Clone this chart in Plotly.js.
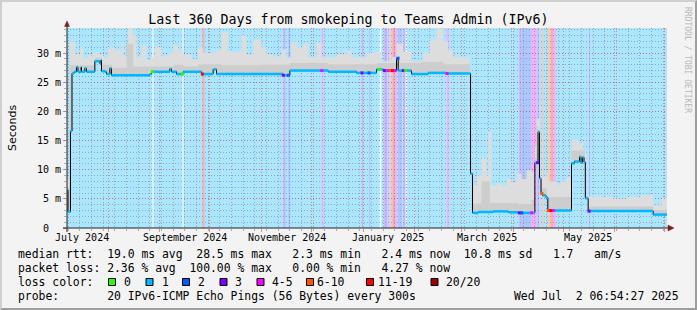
<!DOCTYPE html>
<html><head><meta charset="utf-8">
<script src="https://cdn.plot.ly/plotly-3.0.1.min.js"></script>
<style>
html,body{margin:0;padding:0;background:#f3f3f3;}
#wrap{position:relative;width:697px;height:310px;overflow:hidden;}
#chart{width:697px;height:310px;}
#frame{position:absolute;left:0;top:0;width:697px;height:310px;box-sizing:border-box;
 border-top:2px solid #cfcfcf;border-left:2px solid #cfcfcf;border-right:2px solid #9e9e9e;border-bottom:2px solid #9e9e9e;pointer-events:none;}
</style></head><body>
<div id="wrap"><div id="chart"></div><div id="frame"></div></div>
<script>
// ---- data ----
const medianDates = ['2024-07-07 07:00','2024-07-07 21:00','2024-07-09 09:00','2024-07-10 07:00','2024-07-11 12:00','2024-07-13','2024-07-13 21:00','2024-07-15 17:00','2024-07-16','2024-07-18','2024-07-19','2024-07-24','2024-07-27','2024-07-27 17:00','2024-07-28','2024-07-30','2024-07-31','2024-08-02','2024-08-02 22:00','2024-08-26','2024-08-27','2024-09-07','2024-09-08','2024-09-11','2024-09-15','2024-09-26','2024-10-03','2024-10-05','2024-11-14','2024-11-18','2024-12-11','2024-12-28','2025-01-09','2025-01-13','2025-01-21','2025-01-22','2025-01-30','2025-02-09','2025-02-20','2025-03-06 10:00','2025-03-07 14:00','2025-03-11','2025-03-20','2025-03-29','2025-04-04','2025-04-14','2025-04-15 22:00','2025-04-16 19:00','2025-04-17 17:00','2025-04-18 14:00','2025-04-20 17:00','2025-04-21 19:00','2025-05-06','2025-05-07 19:00','2025-05-10 19:00','2025-05-11 17:00','2025-05-12 14:00','2025-05-13 12:00','2025-05-14 07:00','2025-05-16','2025-06-24','2025-07-02 07:00'];
const medianMs = [6.5,2.8,16.6,26.5,26.8,27.6,26.8,27.6,26.8,27.4,26.8,28.6,28.2,28.8,26.9,26.8,26.4,27.4,26.2,26.4,26.8,27.3,26.8,26.4,26.8,26.4,27.2,26.4,26.2,27.0,26.8,26.6,27.2,27.0,29.1,27.0,26.4,26.6,26.5,9.3,2.6,2.75,2.85,2.7,2.6,11.2,16.5,8.5,5.9,5.6,5.2,3.0,11.1,11.4,12.2,11.2,12.1,11.3,5.1,2.9,2.3,2.3];

const smokeTopDates = ['2024-07-07 07:00','2024-07-09','2024-07-12','2024-07-15','2024-07-17','2024-07-20','2024-07-23','2024-07-26','2024-07-29','2024-08-01','2024-08-05','2024-08-09','2024-08-10','2024-08-13','2024-08-16','2024-08-18','2024-08-21','2024-08-24','2024-08-26','2024-08-29','2024-09-02','2024-09-06','2024-09-09','2024-09-12','2024-09-15','2024-09-20','2024-09-24','2024-09-27','2024-10-05','2024-10-08','2024-10-12','2024-10-20','2024-10-23','2024-10-27','2024-11-01','2024-11-04','2024-11-08','2024-11-13','2024-11-16','2024-11-19','2024-11-22','2024-11-26','2024-11-29','2024-12-04','2024-12-07','2024-12-16','2024-12-22','2024-12-25','2025-01-03','2025-01-09','2025-01-12','2025-01-18','2025-01-21','2025-01-25','2025-01-30','2025-02-06','2025-02-10','2025-02-14','2025-02-18','2025-02-21','2025-02-24','2025-03-06','2025-03-07 14:00','2025-03-10','2025-03-13','2025-03-16','2025-03-17','2025-03-19','2025-03-22','2025-03-25','2025-03-28','2025-03-31','2025-04-03','2025-04-06','2025-04-09','2025-04-12','2025-04-14','2025-04-15','2025-04-17','2025-04-21','2025-04-22','2025-04-27','2025-04-30','2025-05-03','2025-05-06','2025-05-10','2025-05-12','2025-05-13','2025-05-15','2025-05-24','2025-05-31','2025-06-08','2025-06-17','2025-06-24','2025-06-29','2025-07-02 07:00'];
const smokeTopMs = [8.5,32.0,29.8,31.0,29.1,29.6,30.0,29.8,29.3,31.0,30.5,32.0,29.4,34.2,33.0,29.3,31.3,28.8,29.3,31.0,29.5,30.0,31.4,30.6,29.7,28.9,31.0,30.0,30.6,33.6,30.2,33.0,29.7,32.3,31.0,29.7,29.4,30.6,29.2,32.0,31.0,31.6,29.3,31.8,29.3,29.8,30.5,29.3,30.0,30.2,28.6,29.3,31.6,30.2,28.6,30.0,32.3,34.2,32.0,30.4,29.3,10.0,7.3,9.0,11.9,9.0,16.5,7.3,7.6,7.3,8.4,7.9,9.3,8.4,9.9,9.6,14.0,18.8,8.8,9.6,8.0,7.5,8.0,8.6,15.1,14.5,14.8,13.0,5.4,5.3,5.0,5.3,5.6,3.9,5.0,5.0];

const smokeMidDates = ['2024-07-07 07:00','2024-07-09','2024-07-24','2024-07-28','2024-08-03','2024-08-12','2024-08-16','2024-09-09','2024-09-15','2024-09-24','2024-10-08','2024-11-01','2024-11-18','2024-12-11','2025-01-09','2025-01-21','2025-01-23','2025-02-05','2025-02-18','2025-03-06','2025-03-07 14:00','2025-03-13','2025-03-18','2025-04-04','2025-04-12','2025-04-14','2025-04-15','2025-04-16','2025-04-17','2025-04-21','2025-05-06','2025-05-14','2025-05-16','2025-06-24','2025-07-02 07:00'];
const smokeMidMs = [7.0,27.9,29.2,28.0,27.5,31.5,27.7,28.0,27.7,28.1,27.9,28.0,28.3,28.1,28.3,29.5,28.3,28.5,28.1,9.5,4.2,8.0,4.3,4.1,4.8,12.0,17.5,9.0,6.8,5.3,13.3,5.5,3.7,3.1,3.1];

// loss periods: start, end, loss class index into lossLabels
const lossStart = ['2024-08-27 14:00','2024-09-14 14:00','2024-09-26 12:00','2024-11-14 02:00','2024-11-17 02:00','2024-12-07 04:00','2024-12-31 07:00','2025-01-04 12:00','2025-01-10 21:00','2025-01-13 17:00','2025-01-15 21:00','2025-01-17 12:00','2025-01-18 14:00','2025-01-20 02:00','2025-01-21 21:00','2025-01-25 02:00','2025-01-26 12:00','2025-02-20 07:00','2025-04-04 17:00','2025-04-06 02:00','2025-04-12 02:00','2025-04-15 14:00','2025-04-18 07:00','2025-04-22 02:00','2025-04-23 14:00','2025-04-25 02:00','2025-05-16 12:00'];
const lossEnd   = ['2024-08-28 04:00','2024-09-15 04:00','2024-09-27 17:00','2024-11-15 07:00','2024-11-18 07:00','2024-12-08 02:00','2024-12-31 21:00','2025-01-05 02:00','2025-01-11 21:00','2025-01-15 07:00','2025-01-16 12:00','2025-01-18 14:00','2025-01-20 02:00','2025-01-21 07:00','2025-01-24 07:00','2025-01-26 07:00','2025-01-27 07:00','2025-02-21 12:00','2025-04-06 02:00','2025-04-12 02:00','2025-04-15 02:00','2025-04-16 12:00','2025-04-19 04:00','2025-04-23 14:00','2025-04-25 02:00','2025-04-26 12:00','2025-05-17 02:00'];
const lossClass = [0,0,6,3,2,4,3,2,0,3,4,5,6,4,2,3,0,4,3,2,4,3,5,5,6,4,3];

const lossLabels = ['0','1','2','3','4-5','6-10','11-19','20/20'];
const lossColors = ['#26ff00','#00b8ff','#0059ff','#7e00ff','#ff00ff','#ff5500','#ff0000','#a00000'];
const lossBandColors = ['#ffffff','#aae6ff','#aac8ff','#d4aaff','#ffaaff','#ffc7aa','#ffaaaa','#e0aaaa'];

const yTickVals = [0,5,10,15,20,25,30];
const yTickText = ['0\u00a0\u00a0','5 m','10 m','15 m','20 m','25 m','30 m'];
const monthStarts = ['2024-08-01','2024-09-01','2024-10-01','2024-11-01','2024-12-01','2025-01-01','2025-02-01','2025-03-01','2025-04-01','2025-05-01','2025-06-01','2025-07-01'];
const monthLabelDates = ['2024-07-16','2024-09-16','2024-11-16','2025-01-16','2025-03-16','2025-05-16'];
const monthLabelText = ['July 2024','September 2024','November 2024','January 2025','March 2025','May 2025'];
const xRange = ['2024-07-07 07:00','2025-07-02 07:00'];
const yRange = [0, 34.3];

const statLines = [
  'median rtt:  19.0 ms avg  28.5 ms max   2.3 ms min   2.4 ms now  10.8 ms sd   1.7   am/s',
  'packet loss: 2.36 % avg  100.00 % max   0.00 % min   4.27 % now',
  'loss color:',
  'probe:       20 IPv6-ICMP Echo Pings (56 Bytes) every 300s'
];
const stampText = 'Wed Jul  2 06:54:27 2025';

// ---- helpers (layout geometry in pixels) ----
const PL=67, PR=667, PT=28, PB=228;
const px = x => (x-PL)/(PR-PL);
const py = y => (PB-y)/(PB-PT);
const mono = 'DejaVu Sans Mono';

function medianAt(d){
  const t = new Date(d.replace(' ','T')).getTime();
  let v = medianMs[0];
  for(let i=0;i<medianDates.length;i++){
    if(new Date(medianDates[i].replace(' ','T')).getTime() <= t) v = medianMs[i]; else break;
  }
  return v;
}

// median coloured horizontal segments
const segX=[], segY=[];
for(let i=0;i<medianDates.length-1;i++){
  segX.push(medianDates[i], medianDates[i+1], null);
  segY.push(medianMs[i], medianMs[i], null);
}

const traces = [
  {x:medianDates,y:medianMs,mode:'lines',line:{shape:'hv',width:0},hoverinfo:'skip',showlegend:false},
  {x:smokeTopDates,y:smokeTopMs,mode:'lines',line:{shape:'hv',width:0},fill:'tonexty',fillcolor:'#dddddd',hoverinfo:'skip',showlegend:false},
  {x:medianDates,y:medianMs,mode:'lines',line:{shape:'hv',width:0},hoverinfo:'skip',showlegend:false},
  {x:smokeMidDates,y:smokeMidMs,mode:'lines',line:{shape:'hv',width:0},fill:'tonexty',fillcolor:'#cdcdcd',hoverinfo:'skip',showlegend:false},
  {x:medianDates,y:medianMs,mode:'lines',line:{shape:'hv',width:1,color:'#000000'},hoverinfo:'skip',showlegend:false},
  {x:segX,y:segY,mode:'lines',line:{width:2.5,color:lossColors[1]},connectgaps:false,hoverinfo:'skip',showlegend:false},
  {x:lossStart,y:lossStart.map(medianAt),mode:'markers',marker:{symbol:'square',size:3,color:lossClass.map(c=>lossColors[c])},hoverinfo:'skip',showlegend:false}
];

const shapes = [];
lossStart.forEach((s,i)=>{
  shapes.push({type:'rect',xref:'x',yref:'paper',x0:s,x1:lossEnd[i],y0:0,y1:1,fillcolor:lossBandColors[lossClass[i]],line:{width:0},layer:'below'});
});
// axes with arrows
const AX='#202020', ARROW='#7f1f1f';
shapes.push({type:'line',xref:'paper',yref:'paper',x0:0,x1:0,y0:py(232),y1:py(26),line:{color:AX,width:1}});
shapes.push({type:'line',xref:'paper',yref:'paper',x0:px(63),x1:px(668),y0:0,y1:0,line:{color:AX,width:1}});
shapes.push({type:'path',xref:'paper',yref:'paper',path:`M ${px(64.5)} ${py(26.5)} L ${px(69.5)} ${py(26.5)} L ${px(67)} ${py(21)} Z`,fillcolor:ARROW,line:{color:ARROW,width:0.5}});
shapes.push({type:'path',xref:'paper',yref:'paper',path:`M ${px(668)} ${py(225)} L ${px(668)} ${py(231)} L ${px(674)} ${py(228)} Z`,fillcolor:ARROW,line:{color:ARROW,width:0.5}});

const annotations = [];
monthLabelDates.forEach((d,i)=>annotations.push({xref:'x',yref:'paper',x:d,y:py(237.5),text:monthLabelText[i],showarrow:false,xanchor:'center',yanchor:'middle',font:{family:mono,size:10,color:'#000'}}));
annotations.push({xref:'paper',yref:'paper',x:px(12),y:py(128),text:'Seconds',textangle:-90,showarrow:false,xanchor:'center',yanchor:'middle',font:{family:'DejaVu Sans',size:11,color:'#000'}});
annotations.push({xref:'paper',yref:'paper',x:px(688),y:py(60),text:'RRDTOOL / TOBI OETIKER',textangle:90,showarrow:false,xanchor:'center',yanchor:'middle',font:{family:mono,size:8,color:'#b8b8b8'}});

const LF = 11.4;
const lineY = [254.3,268.0,282.0,296.0];
statLines.forEach((t,i)=>annotations.push({xref:'paper',yref:'paper',x:px(15.5),y:py(lineY[i]),text:t.replace(/ /g,'&nbsp;'),showarrow:false,xanchor:'left',yanchor:'middle',font:{family:mono,size:LF,color:'#000'}}));
annotations.push({xref:'paper',yref:'paper',x:px(681),y:py(lineY[3]),text:stampText.replace(/ /g,'&nbsp;'),showarrow:false,xanchor:'right',yanchor:'middle',font:{family:mono,size:LF,color:'#000'}});
const sqX = [108.5,146,182.5,220,257,306.5,366.5,431];
const lblX = [123,160.5,197,234,270.5,316,376.5,445];
lossLabels.forEach((l,i)=>{
  shapes.push({type:'rect',xref:'paper',yref:'paper',x0:px(sqX[i]),x1:px(sqX[i]+7),y0:py(285.5),y1:py(278.5),fillcolor:lossColors[i],line:{color:'#000',width:1}});
  annotations.push({xref:'paper',yref:'paper',x:px(lblX[i]-1),y:py(lineY[2]),text:l,showarrow:false,xanchor:'left',yanchor:'middle',font:{family:mono,size:LF,color:'#000'}});
});

const GRID='rgba(143,143,143,0.7)', MGRID='rgba(222,80,80,0.65)';
const layout = {
  width:697,height:310,
  margin:{l:PL,r:697-PR,t:PT,b:310-PB,pad:0},
  paper_bgcolor:'#f3f3f3',plot_bgcolor:lossBandColors[1],
  title:{text:'Last 360 Days from smokeping to Teams Admin (IPv6)',x:0.5,xref:'container',xanchor:'center',y:1-19/310,yref:'container',yanchor:'middle',font:{family:mono,size:13.3,color:'#000'}},
  showlegend:false,
  xaxis:{type:'date',range:xRange,tickmode:'array',tickvals:monthStarts,showticklabels:false,showgrid:true,gridcolor:MGRID,griddash:'1px,2px',gridwidth:1,
    ticks:'outside',ticklen:3,tickcolor:MGRID,zeroline:false,showline:false,fixedrange:true,
    minor:{tick0:'2024-07-08',dtick:7*86400000,showgrid:true,gridcolor:GRID,griddash:'1px,2px',ticks:'outside',ticklen:2,tickcolor:GRID}},
  yaxis:{range:yRange,tickmode:'array',tickvals:yTickVals,ticktext:yTickText,showgrid:true,gridcolor:MGRID,griddash:'1px,2px',
    ticks:'outside',ticklen:3,tickcolor:MGRID,zeroline:false,showline:false,fixedrange:true,
    tickfont:{family:mono,size:10,color:'#000'},
    minor:{dtick:1,showgrid:true,gridcolor:GRID,griddash:'1px,2px',ticks:'outside',ticklen:2,tickcolor:GRID}},
  shapes:shapes,annotations:annotations
};
Plotly.newPlot('chart',traces,layout,{staticPlot:true,displayModeBar:false});
</script>
</body></html>
